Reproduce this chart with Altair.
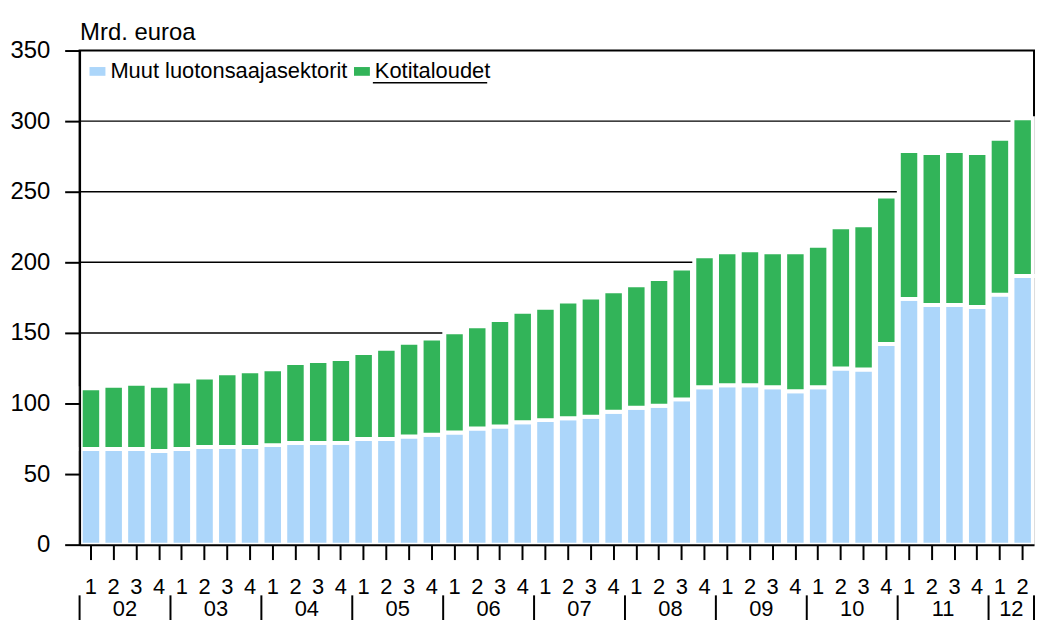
import altair as alt
import pandas as pd

# ---- data -------------------------------------------------------------
years = ["2002", "2003", "2004", "2005", "2006", "2007", "2008", "2009", "2010", "2011", "2012"]
quarters = ["1", "2", "3", "4"]
periods = [f"{y}-{q}" for y in years for q in quarters][:42]   # 2002Q1 .. 2012Q2

series_names = ["Muut luotonsaajasektorit", "Kotitaloudet"]
series_colors = ["#acd6fa", "#32b459"]

# Muut luotonsaajasektorit (bn EUR)
muut = [67.7, 67.7, 67.7, 66.3, 67.7, 69.1, 69.1, 69.1, 70.5, 72.0,
        72.0, 72.1, 74.9, 74.9, 76.6, 77.9, 79.5, 82.3, 83.7, 86.7,
        88.2, 89.6, 90.6, 94.1, 97.0, 98.4, 102.9, 111.5, 112.9, 112.9,
        111.5, 108.6, 111.5, 124.7, 124.0, 142.1, 174.1, 169.7, 169.7, 168.3,
        177.1, 190.3]
# Kotitaloudet (bn EUR)
koti = [43.1, 44.8, 46.2, 46.2, 47.8, 49.3, 52.3, 53.7, 53.7, 56.7,
        58.1, 59.4, 60.8, 63.9, 66.4, 68.1, 71.0, 72.4, 75.5, 78.3,
        79.6, 82.7, 84.5, 85.3, 86.8, 89.8, 92.7, 92.7, 94.3, 95.7,
        95.7, 98.6, 100.2, 100.1, 102.2, 104.5, 104.7, 107.7, 109.1, 109.1,
        110.4, 111.7]

y_ticks = [0, 50, 100, 150, 200, 250, 300, 350]
grid_values = [50, 100, 150, 200, 250, 300]

year_labels = ["02", "03", "04", "05", "06", "07", "08", "09", "10", "11", "12"]
year_anchor = ["2002-2", "2003-2", "2004-2", "2005-2", "2006-2", "2007-2",
               "2008-2", "2009-2", "2010-2", "2011-2", "2012-1"]
year_starts = [f"{y}-1" for y in years]
last_period = [periods[-1]]

# ---- tables -----------------------------------------------------------
rows = []
for i, p in enumerate(periods):
    rows.append({"period": p, "series": series_names[0], "value": muut[i], "ord": 0})
    rows.append({"period": p, "series": series_names[1], "value": koti[i], "ord": 1})
df = pd.DataFrame(rows)
grid_df = pd.DataFrame({"value": grid_values})
year_df = pd.DataFrame({"period": year_anchor, "label": year_labels})
start_df = pd.DataFrame({"period": year_starts})
end_df = pd.DataFrame({"period": last_period})

FONT = "Liberation Sans"
W, H = 960, 497

xscale = alt.Scale(domain=periods, paddingInner=0, paddingOuter=0)
yscale = alt.Scale(domain=[0, 350], nice=False)

x_axis = alt.Axis(
    title=None, labelExpr="slice(datum.value, -1)", labelAngle=0,
    tickSize=15, tickWidth=2, tickColor="black",
    domainColor="black", domainWidth=2,
    labelFontSize=22, labelPadding=27, labelBaseline="middle",
    labelColor="black", labelFont=FONT, grid=False, zindex=1,
)
y_axis = alt.Axis(
    values=y_ticks, title="Mrd. euroa", titleAngle=0, titleAlign="left",
    titleBaseline="alphabetic", titleX=0, titleY=-11, titleFontSize=24,
    titleFontWeight="normal", titleColor="black", titleFont=FONT,
    tickSize=15, tickWidth=2, tickColor="black",
    domainColor="black", domainWidth=2,
    labelFontSize=24, labelPadding=15, labelColor="black", labelFont=FONT,
    grid=False, zindex=1,
)

grid = alt.Chart(grid_df).mark_rule(color="black", strokeWidth=1.5).encode(
    y=alt.Y("value:Q", scale=yscale, axis=y_axis)
)

bars = alt.Chart(df).mark_bar(
    width=alt.RelativeBandSize(0.9), stroke="white", strokeWidth=4
).encode(
    x=alt.X("period:N", scale=xscale, sort=periods, axis=x_axis),
    y=alt.Y("value:Q", stack="zero", scale=yscale, axis=y_axis),
    color=alt.Color(
        "series:N",
        scale=alt.Scale(domain=series_names, range=series_colors),
        legend=alt.Legend(
            title=None, orient="none", legendX=7, legendY=10, direction="horizontal",
            symbolType="M-1,-0.55H1V0.55H-1Z", symbolSize=256, symbolStrokeWidth=0,
            labelFontSize=22, labelFont=FONT, labelColor="black", labelOffset=2,
            labelLimit=600, columnPadding=3, padding=0,
        ),
    ),
    order=alt.Order("ord:Q", sort="ascending"),
)

year_text = alt.Chart(year_df).mark_text(
    fontSize=22, font=FONT, color="black", align="center", baseline="middle"
).encode(
    x=alt.X("period:N", scale=xscale, sort=periods, bandPosition=1, axis=x_axis),
    y=alt.value(H + 65),
    text="label:N",
)

sep_start = alt.Chart(start_df).mark_rule(color="black", strokeWidth=2).encode(
    x=alt.X("period:N", scale=xscale, sort=periods, bandPosition=0, axis=x_axis),
    y=alt.value(H + 51),
    y2=alt.value(H + 80),
)
sep_end = alt.Chart(end_df).mark_rule(color="black", strokeWidth=2).encode(
    x=alt.X("period:N", scale=xscale, sort=periods, bandPosition=1, axis=x_axis),
    y=alt.value(H + 51),
    y2=alt.value(H + 80),
)

underline = alt.Chart(end_df).mark_rule(color="black", strokeWidth=1.5).encode(
    x=alt.value(295), x2=alt.value(410), y=alt.value(32.5)
)

chart = alt.layer(grid, bars, year_text, sep_start, sep_end, underline).properties(
    width=W, height=H,
    autosize=alt.AutoSizeParams(type="none"),
    padding={"left": 72, "top": 41, "right": 2, "bottom": 74},
).configure(font=FONT).configure_view(stroke="black", strokeWidth=2)

chart.save("out.html", embed_options={"renderer": "svg", "actions": False})
